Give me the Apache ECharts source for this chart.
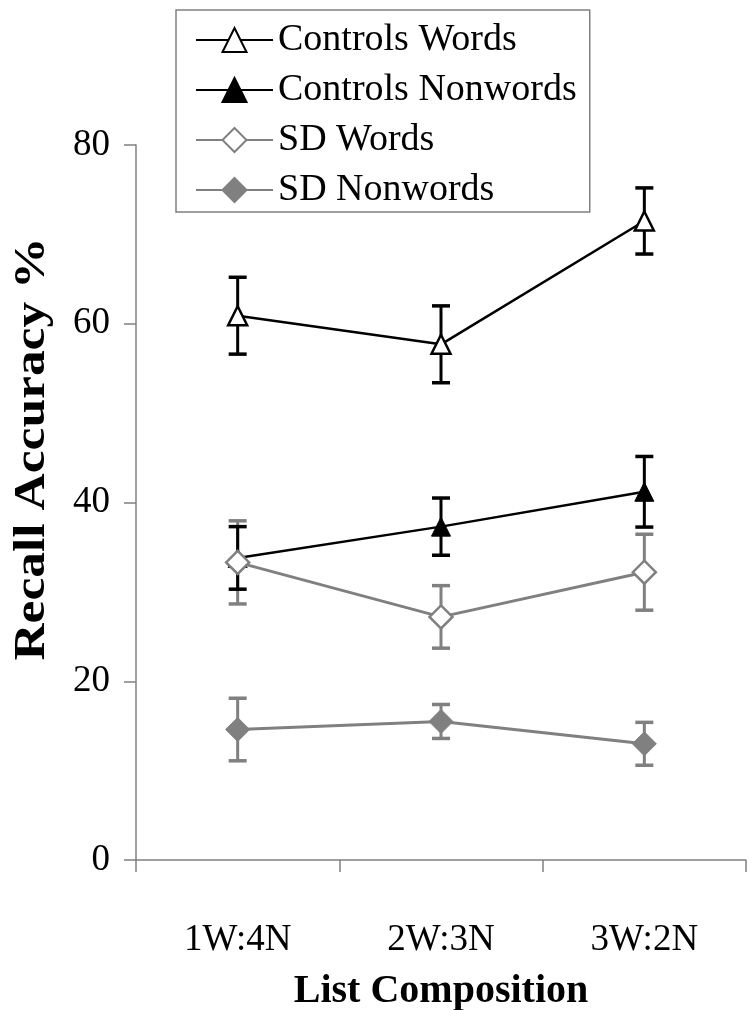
<!DOCTYPE html>
<html>
<head>
<meta charset="utf-8">
<script src="https://cdn.jsdelivr.net/npm/echarts@6/dist/echarts.min.js"></script>
<style>
html,body{margin:0;padding:0;background:#fff;}
#chart{width:756px;height:1010px;}
</style>
</head>
<body>
<div id="chart"></div>
<script>
const categories = ['1W:4N', '2W:3N', '3W:2N'];
const seriesNames = ['Controls Words', 'Controls Nonwords', 'SD Words', 'SD Nonwords'];
const controlsWords = [60.9, 57.7, 71.5];
const controlsWordsErr = [4.3, 4.3, 3.7];
const controlsNonwords = [33.8, 37.3, 41.2];
const controlsNonwordsErr = [3.5, 3.2, 3.95];
const sdWords = [33.3, 27.2, 32.2];
const sdWordsErr = [4.65, 3.5, 4.25];
const sdNonwords = [14.6, 15.5, 13.0];
const sdNonwordsErr = [3.5, 1.9, 2.4];
const yTicks = [0, 20, 40, 60, 80];
const xTitle = 'List Composition';
const yTitle = 'Recall Accuracy %';

const BLACK = '#000000';
const GREY = '#808080';
const FONT = '"Liberation Serif", "DejaVu Serif", serif';

function errData(vals, errs) {
  return vals.map((v, i) => [i, v - errs[i], v + errs[i]]);
}

function errSeries(vals, errs, color, width, z) {
  return {
    type: 'custom',
    z: z,
    silent: true,
    data: errData(vals, errs),
    renderItem: function (params, api) {
      const x = api.value(0);
      const lo = api.coord([x, api.value(1)]);
      const hi = api.coord([x, api.value(2)]);
      const hw = 9;
      const st = { stroke: color, lineWidth: width };
      return {
        type: 'group',
        children: [
          { type: 'line', shape: { x1: lo[0], y1: lo[1], x2: hi[0], y2: hi[1] }, style: st },
          { type: 'line', shape: { x1: lo[0] - hw, y1: lo[1], x2: lo[0] + hw, y2: lo[1] }, style: { stroke: color, lineWidth: 3.5 } },
          { type: 'line', shape: { x1: hi[0] - hw, y1: hi[1], x2: hi[0] + hw, y2: hi[1] }, style: { stroke: color, lineWidth: 3.5 } }
        ]
      };
    }
  };
}

const chart = echarts.init(document.getElementById('chart'));
chart.setOption({
  animation: false,
  backgroundColor: '#ffffff',
  grid: { left: 136, right: 10, top: 145, bottom: 150, containLabel: false, outerBoundsMode: 'none' },
  legend: {
    orient: 'vertical',
    left: 176,
    top: 10,
    padding: [10, 13, 2, 19],
    itemGap: 10,
    itemWidth: 77,
    itemHeight: 30,
    borderColor: GREY,
    borderWidth: 1.5,
    backgroundColor: '#ffffff',
    data: seriesNames,
    textStyle: { fontFamily: FONT, fontSize: 38, color: '#000', lineHeight: 40, padding: [0, 0, 0, 0] }
  },
  xAxis: {
    type: 'category',
    data: categories,
    boundaryGap: true,
    name: xTitle,
    nameLocation: 'middle',
    nameGap: 112,
    nameTextStyle: { fontFamily: FONT, fontSize: 40, fontWeight: 'bold', color: '#000' },
    axisLine: { lineStyle: { color: GREY, width: 1.5 } },
    axisTick: { show: true, length: 12, lineStyle: { color: GREY, width: 1.5 } },
    axisLabel: { fontFamily: FONT, fontSize: 37, color: '#000', margin: 62 },
    splitLine: { show: false }
  },
  yAxis: {
    type: 'value',
    min: yTicks[0],
    max: yTicks[yTicks.length - 1],
    interval: yTicks[1] - yTicks[0],
    axisLine: { show: true, lineStyle: { color: GREY, width: 1.5 } },
    axisTick: { show: true, length: 12, lineStyle: { color: GREY, width: 1.5 } },
    axisLabel: { fontFamily: FONT, fontSize: 37, color: '#000', margin: 26 },
    splitLine: { show: false }
  },
  graphic: [{
    type: 'text',
    x: 33,
    y: 449,
    rotation: Math.PI / 2,
    scaleX: 1.17,
    style: {
      text: yTitle,
      font: 'bold 44px "Liberation Serif", serif',
      fill: '#000',
      align: 'center',
      verticalAlign: 'middle'
    }
  }],
  series: [
    errSeries(controlsWords, controlsWordsErr, BLACK, 3, 2),
    errSeries(sdWords, sdWordsErr, GREY, 3, 2),
    errSeries(sdNonwords, sdNonwordsErr, GREY, 3, 2),
    errSeries(controlsNonwords, controlsNonwordsErr, BLACK, 3, 2),
    {
      name: seriesNames[0], type: 'line', z: 4, data: controlsWords,
      symbol: 'triangle', symbolSize: [19, 19], showSymbol: true,
      lineStyle: { color: BLACK, width: 2.5 },
      itemStyle: { color: '#ffffff', borderColor: BLACK, borderWidth: 2.5 }
    },
    {
      name: seriesNames[1], type: 'line', z: 4, data: controlsNonwords,
      symbol: 'triangle', symbolSize: [19, 19],
      lineStyle: { color: BLACK, width: 2.5 },
      itemStyle: { color: BLACK, borderColor: BLACK, borderWidth: 1 }
    },
    {
      name: seriesNames[2], type: 'line', z: 5, data: sdWords,
      symbol: 'diamond', symbolSize: [23, 23],
      lineStyle: { color: GREY, width: 3 },
      itemStyle: { color: '#ffffff', borderColor: GREY, borderWidth: 2.5 }
    },
    {
      name: seriesNames[3], type: 'line', z: 5, data: sdNonwords,
      symbol: 'diamond', symbolSize: [24, 24],
      lineStyle: { color: GREY, width: 3 },
      itemStyle: { color: GREY, borderColor: GREY, borderWidth: 1 }
    }
  ]
});
</script>
</body>
</html>
